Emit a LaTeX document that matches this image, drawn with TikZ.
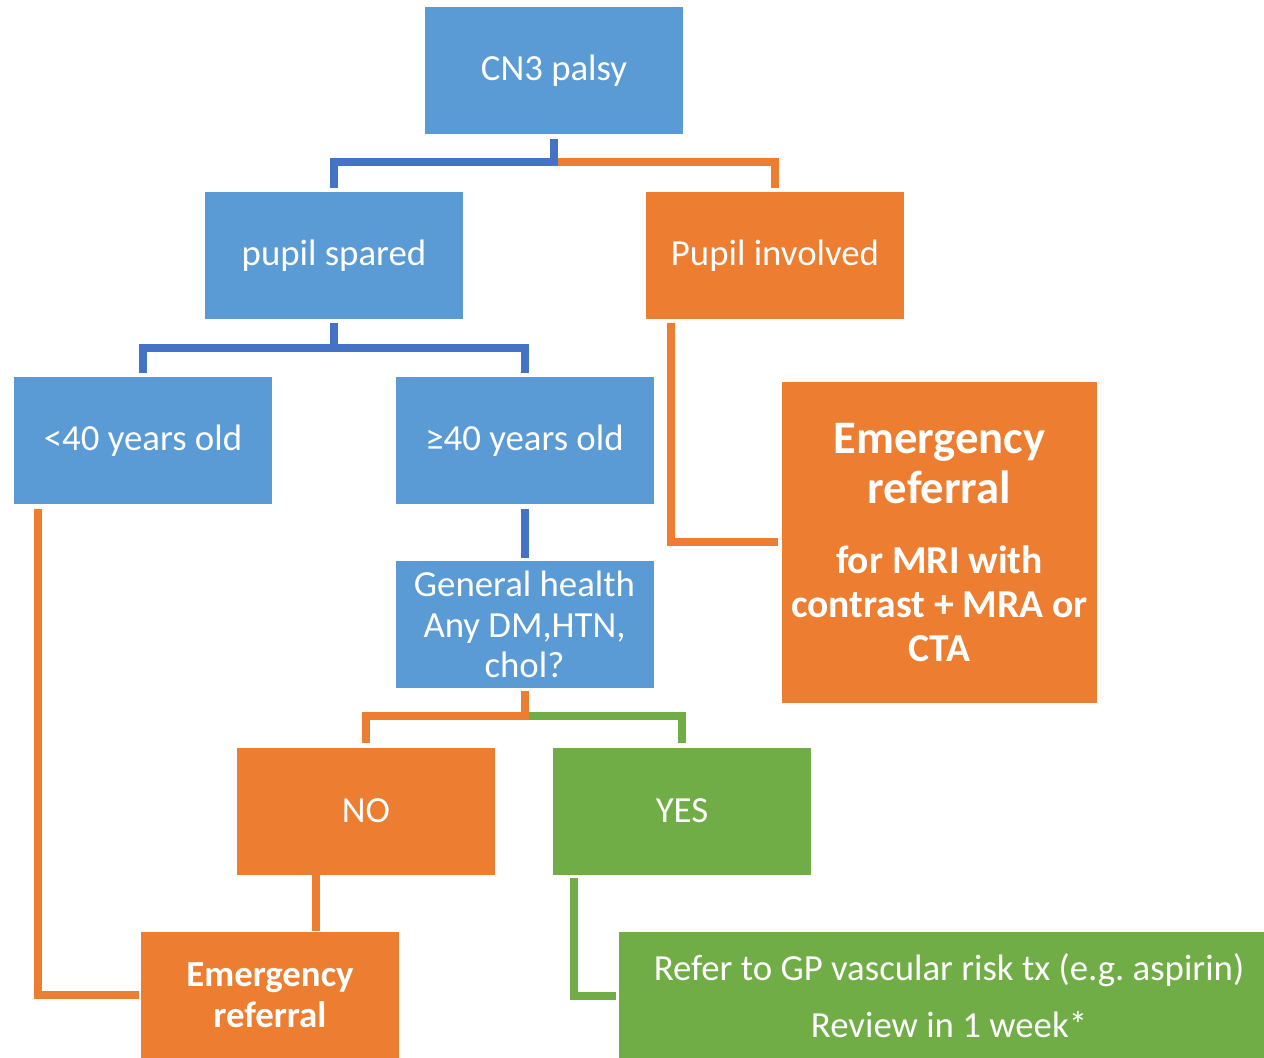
\documentclass[tikz,border=0pt]{standalone}
\usepackage{fontspec}
\setmainfont{Carlito}
\usetikzlibrary{positioning,calc}
\definecolor{boxblue}{RGB}{91,155,213}
\definecolor{boxorange}{RGB}{237,125,49}
\definecolor{boxgreen}{RGB}{112,173,71}
\definecolor{linkblue}{RGB}{68,114,196}
\newcommand{\boxfont}{\fontsize{18.4}{20.3}\selectfont}
\newcommand{\bigref}{\fontsize{23.3}{25}\selectfont}
\tikzset{
    blk/.style={rectangle, fill=#1, text=white, minimum height=63.5pt,
                minimum width=129pt, align=center, inner sep=2pt,
                font=\boxfont},
    link/.style={draw=#1, line width=4pt},
}

\begin{document}
\begin{tikzpicture}[x=0.5pt, y=-0.5pt,
    refer/.style={blk=boxorange, font=\boxfont\bfseries},
]
    \useasboundingbox (0,0) rectangle (1264,1058);

    \node[blk=boxblue]   (cn3)    at (554,70.5)    {CN3 palsy};
    \node[blk=boxblue]   (spared) at (334,256)     {pupil spared};
    \node[blk=boxorange] (invol)  at (775,256)     {Pupil involved};
    \node[blk=boxblue]   (young)  at (143,441)     {<40 years old};
    \node[blk=boxblue]   (old)    at (524.5,441)   {≥40 years old};
    \node[blk=boxblue]   (health) at (524.5,624.5) {General health\\Any DM,HTN,\\chol?};
    \node[blk=boxorange] (no)     at (366,811)     {NO};
    \node[blk=boxgreen]  (yes)    at (682,811)     {YES};
    \node[refer, minimum width=157.5pt, minimum height=160.5pt,
          font=\fontsize{19.8}{22}\selectfont\bfseries] (emright) at (939.5,542.5)
         {{\bigref Emergency}\\[3pt]{\bigref referral}\\[13pt]for MRI with\\contrast + MRA or\\CTA};
    \node[refer] (emleft) at (270,995) {Emergency\\referral};
    \node[blk=boxgreen, minimum width=330pt] (gp) at (949,995.5)
         {Refer to GP vascular risk tx (e.g.\ aspirin)\\[8.2pt]Review in 1 week*};

    \draw[link=boxorange, shorten <=2.5pt, shorten >=2pt] (cn3.south) -- ++(0,28) -| (invol.north);
    \draw[link=linkblue, shorten <=2.5pt, shorten >=2pt] (cn3.south) -- ++(0,28) -| (spared.north);
    \draw[link=linkblue, shorten <=1.5pt, shorten >=2pt] (spared.south) -- ++(0,28) -| (young.north);
    \draw[link=linkblue, shorten <=1.5pt, shorten >=2pt] (spared.south) -- ++(0,28) -| (old.north);
    \draw[link=linkblue, shorten <=2pt, shorten >=1.5pt] (old.south) -- (health.north);
    \draw[link=boxgreen, shorten <=1.5pt, shorten >=2pt] (health.south) -- ++(0,28) -| (yes.north);
    \draw[link=boxorange, shorten <=1.5pt, shorten >=2pt] (health.south) -- ++(0,28) -| (no.north);
    \draw[link=boxorange] ([xshift=-25pt]no.south) -- ([xshift=23pt]emleft.north);
    \draw[link=boxorange, shorten <=2pt, shorten >=1pt] ([xshift=-52.5pt]young.south) |- (emleft.west);
    \draw[link=boxorange, shorten <=1.5pt, shorten >=2pt] ([xshift=-52pt]invol.south) |- (emright.west);
    \draw[link=boxgreen, shorten <=1.5pt, shorten >=1.5pt] ([xshift=-54pt]yes.south) |- (gp.west);
\end{tikzpicture}
\end{document}
